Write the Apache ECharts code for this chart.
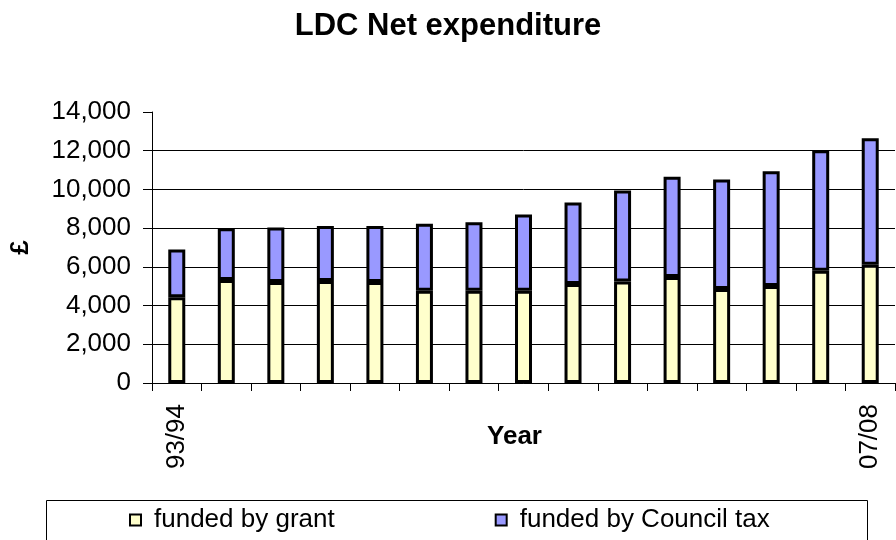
<!DOCTYPE html>
<html>
<head>
<meta charset="utf-8">
<script src="https://cdn.jsdelivr.net/npm/echarts@6/dist/echarts.min.js"></script>
<style>
html,body{margin:0;padding:0;background:#fff;}
#chart{width:896px;height:540px;}
</style>
</head>
<body>
<div id="chart"></div>
<script>
var categories = ['93/94','94/95','95/96','96/97','97/98','98/99','99/00','00/01','01/02','02/03','03/04','04/05','05/06','06/07','07/08'];
var grantValues = [4430, 5320, 5220, 5270, 5220, 4760, 4760, 4760, 5120, 5240, 5480, 4860, 5010, 5800, 6110];
var councilTaxValues = [2470, 2670, 2810, 2840, 2890, 3470, 3540, 3950, 4200, 4710, 5180, 5650, 5930, 6220, 6530];
var yTicks = {min: 0, max: 14000, interval: 2000};
var seriesNames = ['funded by grant', 'funded by Council tax'];

var FONT = '"Liberation Sans", Arial, sans-serif';
var chart = echarts.init(document.getElementById('chart'));
chart.setOption({
  animation: false,
  backgroundColor: '#ffffff',
  title: {
    text: 'LDC Net expenditure',
    left: 'center',
    top: 8,
    padding: 0,
    textStyle: {fontFamily: FONT, fontSize: 31, fontWeight: 'bold', color: '#000', lineHeight: 36}
  },
  graphic: [{
    type: 'rect',
    shape: {x: 46.5, y: 500.5, width: 821, height: 60},
    style: {fill: '#fff', stroke: '#000', lineWidth: 1},
    z: 0
  }],
  legend: {
    left: 129,
    top: 505,
    padding: 0,
    itemWidth: 11,
    itemHeight: 11,
    itemGap: 160,
    icon: 'rect',
    itemStyle: {borderColor: '#000', borderWidth: 2},
    textStyle: {fontFamily: FONT, fontSize: 26, color: '#000', lineHeight: 30, padding: [0, 0, 0, 8]},
    z: 5
  },
  grid: {left: 152, right: 1, top: 112, bottom: 157, containLabel: false, outerBoundsMode: 'none'},
  xAxis: {
    type: 'category',
    data: categories,
    name: 'Year',
    nameLocation: 'middle',
    nameGap: 41,
    nameMoveOverlap: false,
    nameTextStyle: {fontFamily: FONT, fontSize: 26, fontWeight: 'bold', color: '#000', padding: [0, 18, 0, 0]},
    axisLine: {show: true, lineStyle: {color: '#000', width: 1}},
    axisTick: {show: true, length: 8, alignWithLabel: false, interval: 0, lineStyle: {color: '#000'}},
    axisLabel: {
      rotate: 90,
      margin: 21,
      fontFamily: FONT,
      fontSize: 26,
      color: '#000',
      interval: function (index) { return index === 0 || index === categories.length - 1; }
    },
    splitLine: {show: false}
  },
  yAxis: {
    type: 'value',
    min: yTicks.min,
    max: yTicks.max,
    interval: yTicks.interval,
    name: '£',
    nameLocation: 'middle',
    nameGap: 118,
    nameRotate: 90,
    nameMoveOverlap: false,
    nameTextStyle: {fontFamily: FONT, fontSize: 26, fontWeight: 'bold', color: '#000'},
    axisLine: {show: true, lineStyle: {color: '#000', width: 1}},
    axisTick: {show: true, length: 9, lineStyle: {color: '#000'}},
    axisLabel: {
      margin: 21,
      fontFamily: FONT,
      fontSize: 26,
      color: '#000',
      formatter: function (v) { return v.toLocaleString('en-US'); }
    },
    splitLine: {show: true, showMaxLine: false, lineStyle: {color: '#000', width: 1}}
  },
  series: [
    {
      name: seriesNames[0],
      type: 'bar',
      stack: 'total',
      data: grantValues,
      barWidth: 17,
      itemStyle: {color: '#FFFFCC', borderColor: '#000', borderWidth: 3}
    },
    {
      name: seriesNames[1],
      type: 'bar',
      stack: 'total',
      data: councilTaxValues,
      barWidth: 17,
      itemStyle: {color: '#9999FF', borderColor: '#000', borderWidth: 3}
    }
  ]
});
</script>
</body>
</html>
